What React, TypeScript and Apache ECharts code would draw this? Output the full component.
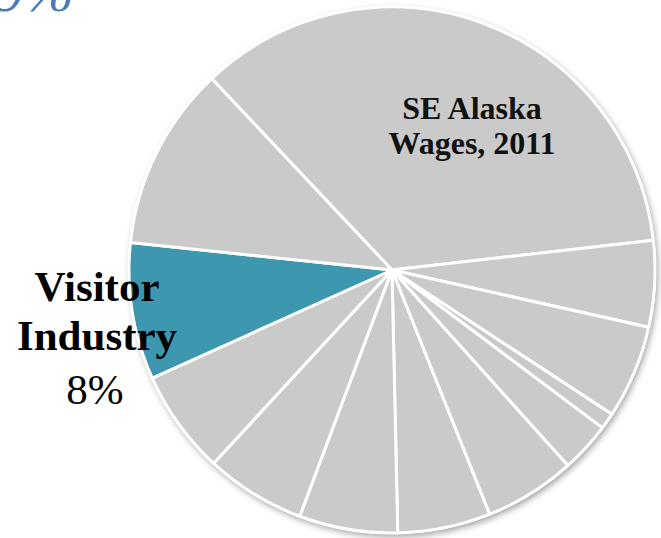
import React, { useEffect, useRef } from "react";
import * as echarts from "echarts";

const categories = [
  "Sector A",
  "Sector B",
  "Sector C",
  "Sector D",
  "Sector E",
  "Sector F",
  "Sector G",
  "Sector H",
  "Sector I",
  "Sector J",
  "Visitor Industry",
  "Sector L",
];
const values = [35.2, 5.3, 5.75, 1.0, 3.1, 5.6, 5.7, 6.05, 6.15, 6.4, 8.4, 11.3];
const highlight = "Visitor Industry";
const titleLines = ["SE Alaska", "Wages, 2011"];
const visitorLines = ["Visitor", "Industry", "8%"];
const cornerText = "9%";

export default function App() {
  const ref = useRef<HTMLDivElement>(null);
  useEffect(() => {
    if (!ref.current) return;
    const chart = echarts.init(ref.current, undefined, { renderer: "svg" });
    const serif = "'Liberation Serif', 'Times New Roman', serif";
    const data = categories.map((c, i) => ({
      name: c,
      value: values[i],
      itemStyle: { color: c === highlight ? "#3D97AE" : "#CACACA" },
    }));
    chart.setOption({
      animation: false,
      backgroundColor: "#ffffff",
      series: [
        {
          type: "pie",
          silent: true,
          center: [392, 270],
          radius: 264,
          startAngle: 90,
          label: { show: false },
          labelLine: { show: false },
          emphasis: { disabled: true },
          data: [
            {
              value: 1,
              itemStyle: {
                color: "#ffffff",
                shadowBlur: 6,
                shadowOffsetX: 2,
                shadowOffsetY: 3,
                shadowColor: "rgba(0,0,0,0.35)",
              },
            },
          ],
        },
        {
          type: "pie",
          silent: true,
          center: [392, 270],
          radius: 263,
          startAngle: 133.3,
          clockwise: true,
          label: { show: false },
          labelLine: { show: false },
          emphasis: { disabled: true },
          itemStyle: { borderColor: "#ffffff", borderWidth: 3 },
          data,
        },
      ],
      graphic: [
        {
          type: "text",
          z: 100,
          x: 74,
          y: -9,
          style: {
            text: cornerText,
            font: "italic 60px " + serif,
            fill: "#4B7CB5",
            textAlign: "right",
            textVerticalAlign: "middle",
          },
        },
        {
          type: "text",
          z: 100,
          x: 472,
          y: 125,
          style: {
            text: titleLines.join("\n"),
            font: "bold 32px " + serif,
            lineHeight: 35,
            fill: "#111111",
            textAlign: "center",
            textVerticalAlign: "middle",
          },
        },
        {
          type: "text",
          z: 100,
          x: 97,
          y: 286,
          style: {
            text: visitorLines[0],
            font: "bold 43px " + serif,
            fill: "#000000",
            textAlign: "center",
            textVerticalAlign: "middle",
          },
        },
        {
          type: "text",
          z: 100,
          x: 97,
          y: 335,
          style: {
            text: visitorLines[1],
            font: "bold 43px " + serif,
            fill: "#000000",
            textAlign: "center",
            textVerticalAlign: "middle",
          },
        },
        {
          type: "text",
          z: 100,
          x: 95,
          y: 389,
          style: {
            text: visitorLines[2],
            font: "43px " + serif,
            fill: "#000000",
            textAlign: "center",
            textVerticalAlign: "middle",
          },
        },
      ],
    });
    return () => chart.dispose();
  }, []);
  return (
    <div
      ref={ref}
      style={{ position: "fixed", left: 0, top: 0, width: 661, height: 538 }}
    />
  );
}
